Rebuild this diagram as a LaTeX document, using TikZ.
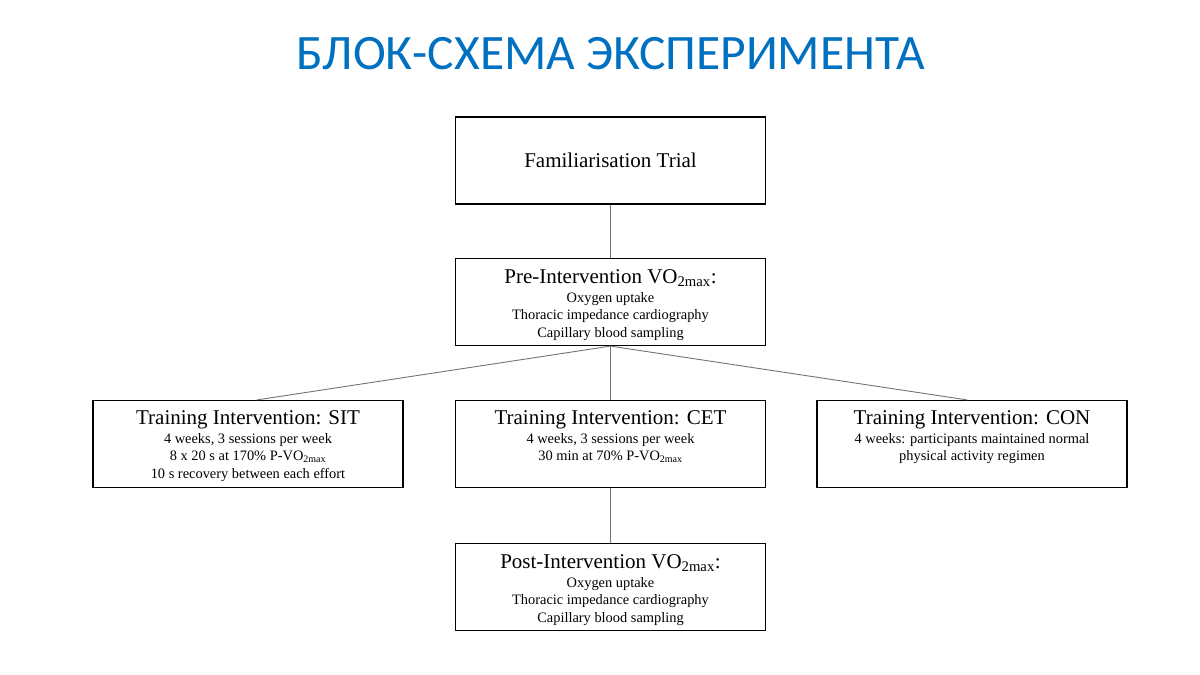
\documentclass[tikz,border=0pt]{standalone}
\usepackage{fontspec}
\setmainfont{Liberation Serif}
\newfontfamily\headfont{Carlito}
\usepackage{tikz}
\usetikzlibrary{positioning}
\definecolor{titleblue}{RGB}{0,112,192}
\newcommand{\hdl}[1]{{\fontsize{21}{21}\selectfont #1}}

\begin{document}
\begin{tikzpicture}[x=1pt, y=-1pt,
  box/.style={draw, line width=1.2pt, minimum width=310pt, minimum height=87pt, inner sep=0pt},
  txt/.style={align=center, inner sep=0pt, font=\fontsize{14.4}{17.5}\selectfont},
  ttl/.style={font=\headfont\fontsize{49.5}{56}\selectfont, text=titleblue, anchor=base},
  link/.style={draw=black!55, line width=0.9pt}
]
\useasboundingbox (0,0) rectangle (1200,675);

% Title
\node[ttl] (title) at (610.5,69) {БЛОК-СХЕМА ЭКСПЕРИМЕНТА};

% Row 1 - familiarisation
\node[box] (fam) at (610.5,160.5) {\hdl{Familiarisation Trial}};

% Row 2 - pre test
\node[box] (pre) at (610.5,302) {};
\node[txt, below=11pt of pre.north] (pre-t) {\hdl{Pre-Intervention VO\textsubscript{2max}:}\\[1.5pt]Oxygen uptake\\Thoracic impedance cardiography\\Capillary blood sampling};

% Row 3 - three training groups (text at top of box)
\node[box] (sit) at (248,444) {};
\node[txt, below=10pt of sit.north] (sit-t) {\hdl{Training Intervention: SIT}\\[1.5pt]4 weeks, 3 sessions per week\\8 x 20 s at 170\% P-VO\textsubscript{2max}\\10 s recovery between each effort};
\node[box] (cet) at (610.5,444) {};
\node[txt, below=10pt of cet.north] (cet-t) {\hdl{Training Intervention: CET}\\[1.5pt]4 weeks, 3 sessions per week\\30 min at 70\% P-VO\textsubscript{2max}};
\node[box] (con) at (972,444) {};
\node[txt, below=10pt of con.north] (con-t) {\hdl{Training Intervention: CON}\\[1.5pt]4 weeks: participants maintained normal\\physical activity regimen};

% Row 4 - post test
\node[box] (post) at (610.5,587) {};
\node[txt, below=11pt of post.north] (post-t) {\hdl{Post-Intervention VO\textsubscript{2max}:}\\[1.5pt]Oxygen uptake\\Thoracic impedance cardiography\\Capillary blood sampling};

% Connectors
\draw[link] (fam) -- (pre);
\draw[link] (pre.south) -- ([xshift=9pt]sit.north);
\draw[link] (pre) -- (cet);
\draw[link] (pre.south) -- ([xshift=-5pt]con.north);
\draw[link] (cet) -- (post);
\end{tikzpicture}
\end{document}
